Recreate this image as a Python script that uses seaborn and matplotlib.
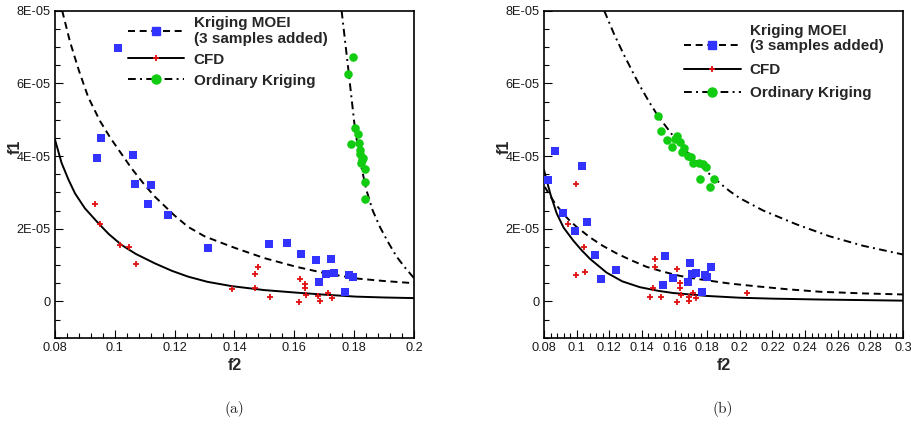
import matplotlib
matplotlib.use('Agg')
import matplotlib.pyplot as plt
from matplotlib.lines import Line2D
from matplotlib.ticker import MultipleLocator, FuncFormatter
import seaborn as sns

# values of f1 are in units of 1E-05

# ---- panel (a) ----
a_moei_f2 = [0.1010, 0.0954, 0.0941, 0.1062, 0.1068, 0.1122, 0.1112, 0.1178, 0.1312, 0.1516,
             0.1576, 0.1622, 0.1673, 0.1723, 0.1706, 0.1733, 0.1683, 0.1782, 0.1796, 0.1771]
a_moei_f1 = [6.96, 4.49, 3.94, 4.02, 3.22, 3.19, 2.67, 2.37, 1.46, 1.57,
             1.62, 1.29, 1.14, 1.16, 0.74, 0.77, 0.52, 0.72, 0.67, 0.27]
a_cfd_f2 = [0.0934, 0.0949, 0.1017, 0.1048, 0.1072, 0.1393, 0.1469, 0.1478, 0.1469, 0.1519,
            0.1618, 0.1636, 0.1634, 0.1639, 0.1615, 0.1678, 0.1686, 0.1714, 0.1727]
a_cfd_f1 = [2.68, 2.13, 1.55, 1.50, 1.03, 0.34, 0.75, 0.94, 0.37, 0.13,
            0.62, 0.48, 0.36, 0.18, -0.02, 0.15, 0.02, 0.23, 0.10]
a_ok_f2 = [0.1796, 0.1780, 0.1804, 0.1813, 0.1788, 0.1816, 0.1821, 0.1830, 0.1824, 0.1837,
           0.1835, 0.1835, 0.1818, 0.1827]
a_ok_f1 = [6.73, 6.26, 4.76, 4.62, 4.33, 4.35, 4.17, 3.94, 3.80, 3.63,
           3.29, 2.81, 4.05, 3.88]

a_moei_curve_f2 = [0.0824, 0.085, 0.088, 0.0911, 0.095, 0.0985, 0.1017, 0.1056, 0.11, 0.1134,
                   0.12, 0.1245, 0.13, 0.1379, 0.1407, 0.15, 0.1607, 0.17, 0.1807, 0.19, 0.2]
a_moei_curve_f1 = [8.0, 7.15, 6.35, 5.62, 4.97, 4.5, 4.12, 3.66, 3.2, 2.88,
                   2.36, 2.05, 1.79, 1.54, 1.455, 1.19, 0.95, 0.78, 0.63, 0.56, 0.50]
a_cfd_curve_f2 = [0.08, 0.0822, 0.0845, 0.0867, 0.09, 0.0945, 0.098, 0.1023, 0.107, 0.1134,
                  0.119, 0.1245, 0.131, 0.139, 0.15, 0.1607, 0.17, 0.1807, 0.19, 0.2]
a_cfd_curve_f1 = [4.45, 3.81, 3.35, 2.97, 2.56, 2.15, 1.85, 1.55, 1.306, 1.045,
                  0.843, 0.68, 0.537, 0.42, 0.31, 0.24, 0.185, 0.13, 0.107, 0.09]
a_ok_curve_f2 = [0.1758, 0.178, 0.1802, 0.182, 0.1841, 0.1862, 0.1886, 0.1914, 0.1942, 0.197,
                 0.2]
a_ok_curve_f1 = [8.0, 6.42, 4.80, 3.85, 3.06, 2.5, 2.05, 1.62, 1.23, 0.93,
                 0.64]

# ---- panel (b) ----
b_moei_f2 = [0.0869, 0.1035, 0.0827, 0.0918, 0.1065, 0.0992, 0.1114, 0.1151, 0.1241, 0.1543,
             0.1529, 0.1592, 0.1696, 0.1706, 0.1733, 0.1684, 0.1784, 0.1798, 0.1826, 0.1769]
b_moei_f1 = [4.15, 3.73, 3.33, 2.42, 2.19, 1.94, 1.27, 0.61, 0.85, 1.24,
             0.44, 0.63, 1.05, 0.74, 0.77, 0.52, 0.72, 0.66, 0.94, 0.27]
b_cfd_f2 = [0.0998, 0.0949, 0.1047, 0.0998, 0.1051, 0.1482, 0.1478, 0.1616, 0.1469, 0.1447,
            0.1520, 0.1635, 0.1635, 0.1641, 0.1614, 0.1686, 0.1686, 0.1714, 0.1729, 0.2045]
b_cfd_f1 = [3.23, 2.13, 1.50, 0.72, 0.81, 1.17, 0.94, 0.90, 0.37, 0.13,
            0.13, 0.50, 0.37, 0.18, -0.02, 0.13, 0.01, 0.23, 0.10, 0.23]
b_ok_f2 = [0.1496, 0.1516, 0.1553, 0.1586, 0.1602, 0.1616, 0.1633, 0.1645, 0.1657, 0.1684,
           0.1700, 0.1711, 0.1751, 0.1776, 0.1790, 0.1755, 0.1839, 0.1817]
b_ok_f1 = [5.09, 4.70, 4.44, 4.24, 4.46, 4.55, 4.39, 4.12, 4.22, 4.00,
           3.98, 3.82, 3.80, 3.78, 3.70, 3.38, 3.36, 3.15]

b_moei_curve_f2 = [0.0805, 0.0835, 0.0867, 0.092, 0.096, 0.1, 0.1082, 0.116, 0.1245, 0.133,
                   0.1429, 0.152, 0.1613, 0.17, 0.1796, 0.1939, 0.21, 0.23, 0.249, 0.275, 0.3]
b_moei_curve_f1 = [3.15, 2.92, 2.70, 2.40, 2.21, 2.05, 1.76, 1.53, 1.32, 1.14,
                   0.95, 0.83, 0.72, 0.645, 0.58, 0.49, 0.415, 0.33, 0.265, 0.22, 0.19]
b_cfd_curve_f2 = [0.08, 0.0812, 0.084, 0.0878, 0.092, 0.098, 0.103, 0.1082, 0.1184, 0.128,
                  0.1388, 0.15, 0.1592, 0.1796, 0.2, 0.22, 0.25, 0.3]
b_cfd_curve_f1 = [3.62, 3.40, 2.94, 2.42, 2.03, 1.67, 1.41, 1.17, 0.79, 0.55,
                  0.39, 0.29, 0.23, 0.15, 0.10, 0.075, 0.05, 0.02]
b_ok_curve_f2 = [0.1169, 0.1229, 0.1286, 0.1347, 0.1388, 0.1443, 0.1496, 0.16, 0.17, 0.18,
                 0.19, 0.1939, 0.2, 0.2143, 0.2347, 0.2551, 0.2755, 0.3]
b_ok_curve_f1 = [8.0, 7.36, 6.82, 6.28, 5.93, 5.5, 5.12, 4.5, 4.0, 3.56,
                 3.17, 3.03, 2.84, 2.5, 2.12, 1.79, 1.53, 1.29]

BLUE = '#3333ff'
RED = '#e01010'
GREEN = '#11cc11'
DASHED = (3.6, 2.4)
DASHDOT = (4.0, 2.2, 1.0, 2.2)
SANS = ['Liberation Sans', 'DejaVu Sans']

sns.set_theme(style='white')
plt.rcParams['font.family'] = SANS


def style_axes(ax, xmax):
    ax.set_xlim(0.08, xmax)
    ax.set_ylim(-1, 8)
    ax.xaxis.set_major_locator(MultipleLocator(0.02))
    ax.xaxis.set_minor_locator(MultipleLocator(0.004))
    ax.yaxis.set_major_locator(MultipleLocator(2))
    ax.yaxis.set_minor_locator(MultipleLocator(0.5))
    ax.xaxis.set_major_formatter(FuncFormatter(lambda v, _: '%g' % round(v, 3)))
    ax.yaxis.set_major_formatter(FuncFormatter(
        lambda v, _: '0' if abs(v) < 1e-9 else '%dE-05' % round(v)))
    ax.tick_params(which='both', direction='in', bottom=True, left=True,
                   top=False, right=False, color='black', labelsize=9.2,
                   labelcolor='#1a1a1a')
    ax.tick_params(which='major', length=5.5, width=0.8, pad=3)
    ax.tick_params(which='minor', length=3.5, width=0.8)
    for sp in ax.spines.values():
        sp.set_color('black')
        sp.set_linewidth(1.2)
    ax.set_xlabel('f2', fontsize=11.5, fontweight='bold')
    ax.set_ylabel('f1', fontsize=11.5, fontweight='bold')
    ax.xaxis.set_label_coords(0.5, -0.062)
    ax.yaxis.set_label_coords(-0.09, 0.583)
    ax.grid(False)


def draw_curve(ax, x, y, dashes=None):
    sns.lineplot(x=x, y=y, ax=ax, color='black', linewidth=1.4, estimator=None)
    if dashes is not None:
        ax.get_lines()[-1].set_dashes(dashes)


def draw_points(ax, moei, cfd, ok):
    sns.scatterplot(x=moei[0], y=moei[1], ax=ax, marker='s', s=26, color=BLUE,
                    linewidth=0, zorder=4)
    sns.scatterplot(x=cfd[0], y=cfd[1], ax=ax, marker='+', s=22, color=RED,
                    linewidth=1.3, zorder=4)
    sns.scatterplot(x=ok[0], y=ok[1], ax=ax, marker='o', s=38, color=GREEN,
                    linewidth=0, zorder=4)


def legend_handles():
    h1 = Line2D([], [], color='black', linewidth=1.4, marker='s', markersize=5.2,
                markerfacecolor=BLUE, markeredgecolor=BLUE, dashes=DASHED)
    h2 = Line2D([], [], color='black', linewidth=1.4, marker='+', markersize=5,
                markeredgewidth=1.3, markeredgecolor=RED)
    h3 = Line2D([], [], color='black', linewidth=1.4, marker='o', markersize=6.5,
                markerfacecolor=GREEN, markeredgecolor=GREEN, dashes=DASHDOT)
    return [h1, h2, h3]


fig = plt.figure(figsize=(9.12, 4.28), dpi=100)
ax_a = fig.add_axes([55 / 912, 90.3 / 428, 359 / 912, 327 / 428])
ax_b = fig.add_axes([544 / 912, 90.3 / 428, 359 / 912, 327 / 428])

# panel (a)
draw_curve(ax_a, a_moei_curve_f2, a_moei_curve_f1, DASHED)
draw_curve(ax_a, a_cfd_curve_f2, a_cfd_curve_f1)
draw_curve(ax_a, a_ok_curve_f2, a_ok_curve_f1, DASHDOT)
draw_points(ax_a, (a_moei_f2, a_moei_f1), (a_cfd_f2, a_cfd_f1), (a_ok_f2, a_ok_f1))
style_axes(ax_a, 0.2)
ax_a.legend(legend_handles(),
            ['Kriging MOEI\n(3 samples added)', 'CFD', 'Ordinary Kriging'],
            loc='upper left', bbox_to_anchor=(0.203, 0.985), frameon=False,
            handlelength=3.7, handletextpad=0.6, labelspacing=0.45, numpoints=1,
            borderpad=0, borderaxespad=0,
            prop={'weight': 'bold', 'size': 11, 'family': SANS})

# panel (b)
draw_curve(ax_b, b_moei_curve_f2, b_moei_curve_f1, DASHED)
draw_curve(ax_b, b_cfd_curve_f2, b_cfd_curve_f1)
draw_curve(ax_b, b_ok_curve_f2, b_ok_curve_f1, DASHDOT)
draw_points(ax_b, (b_moei_f2, b_moei_f1), (b_cfd_f2, b_cfd_f1), (b_ok_f2, b_ok_f1))
style_axes(ax_b, 0.3)
ax_b.legend(legend_handles(),
            ['(3 samples added)', 'CFD', 'Ordinary Kriging'],
            loc='upper left', bbox_to_anchor=(0.39, 0.912), frameon=False,
            handlelength=3.7, handletextpad=0.6, labelspacing=0.62, numpoints=1,
            borderpad=0, borderaxespad=0,
            prop={'weight': 'bold', 'size': 11, 'family': SANS})
ax_b.text(0.574, 0.937, 'Kriging MOEI', transform=ax_b.transAxes, ha='left',
          va='center', fontsize=11, fontweight='bold')

fig.text(234 / 912, 1 - 409 / 428, '(a)', ha='center', va='center',
         fontsize=11, family=['cmr10', 'DejaVu Serif'])
fig.text(723 / 912, 1 - 409 / 428, '(b)', ha='center', va='center',
         fontsize=11, family=['cmr10', 'DejaVu Serif'])

fig.savefig('out.png', dpi=100)
